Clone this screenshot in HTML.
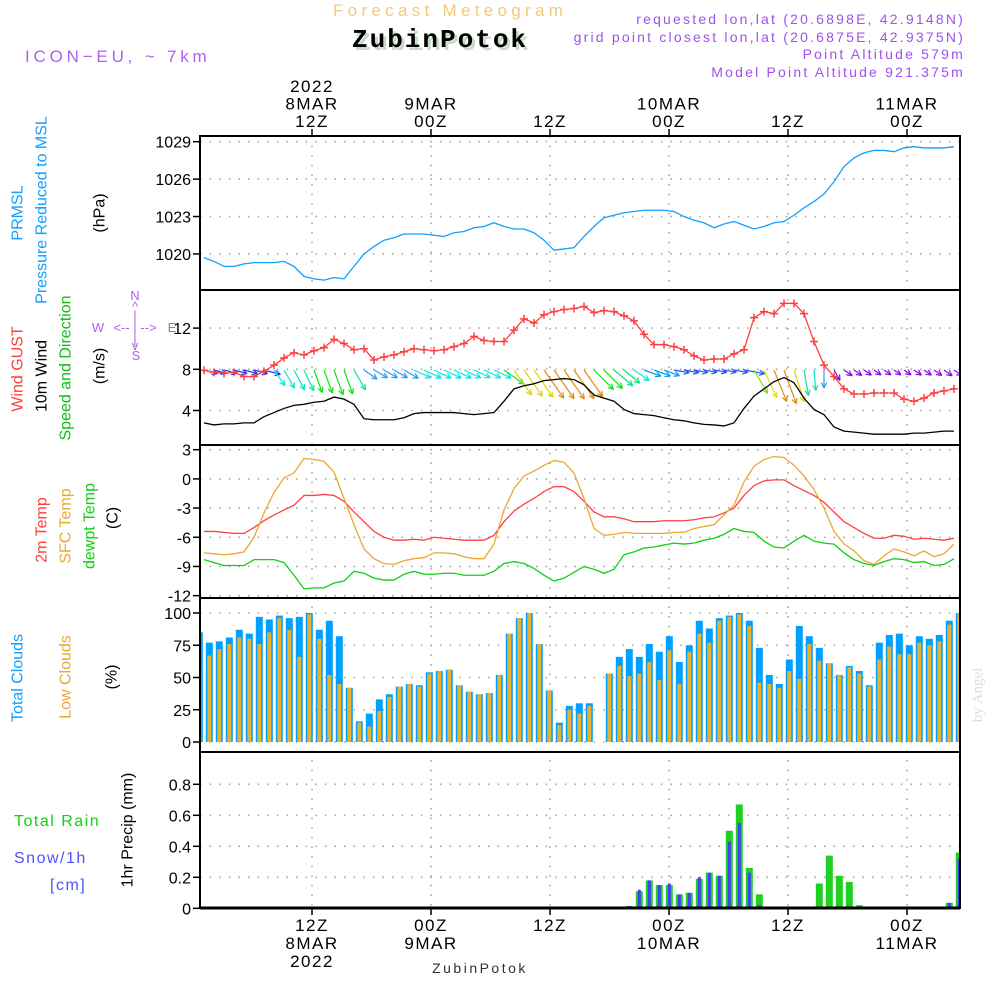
<!DOCTYPE html>
<html><head><meta charset="utf-8"><style>
body{margin:0;background:#fff;}
svg{display:block;font-family:"Liberation Sans",sans-serif;}
</style></head><body>
<svg id="chart" width="1000" height="1000" viewBox="0 0 1000 1000" xmlns="http://www.w3.org/2000/svg">
<rect width="1000" height="1000" fill="#fff"/>
<text x="333" y="16" font-size="17" fill="#f5c97a" letter-spacing="4.3">Forecast Meteogram</text>
<text x="965" y="42" font-size="14" fill="#a050f0" text-anchor="end" letter-spacing="2.2">grid point closest lon,lat (20.6875E, 42.9375N)</text>
<text x="355" y="50" font-size="26" font-weight="bold" fill="#c8dcc8" font-family="Liberation Mono,monospace" letter-spacing="2">ZubinPotok</text>
<text x="352" y="47" font-size="26" font-weight="bold" fill="#000" font-family="Liberation Mono,monospace" letter-spacing="2">ZubinPotok</text>
<text x="25" y="62" font-size="17" fill="#b060f0" letter-spacing="3.8">ICON−EU, ~ 7km</text>
<g font-size="14" fill="#a050f0" text-anchor="end" letter-spacing="2.2">
<text x="965" y="24">requested lon,lat (20.6898E, 42.9148N)</text>
<text x="965" y="59">Point Altitude 579m</text>
<text x="965" y="77">Model Point Altitude 921.375m</text>
</g>
<text transform="translate(982,695) rotate(-90)" font-size="15" fill="#ddd" text-anchor="middle" font-family="Liberation Serif,serif">by Angel</text>
<g id="g"></g>
</svg>
<script>
// ---- data ----
const pressure=[1019.7,1019.4,1019.0,1019.0,1019.2,1019.3,1019.3,1019.3,1019.4,1019.0,1018.2,1018.0,1017.9,1018.1,1018.0,1019.0,1020.0,1020.6,1021.1,1021.3,1021.6,1021.6,1021.6,1021.5,1021.4,1021.7,1021.8,1022.1,1022.2,1022.5,1022.2,1022.0,1022.0,1021.7,1021.1,1020.3,1020.4,1020.5,1021.4,
1022.2,1022.9,1023.1,1023.3,1023.4,1023.5,1023.5,1023.5,1023.4,1023.0,1022.7,1022.5,1022.1,1022.4,1022.6,1022.3,1022.0,1022.2,1022.5,1022.6,1023.1,1023.7,1024.2,1024.8,1025.8,1027.0,1027.7,1028.1,1028.3,1028.3,1028.2,1028.5,1028.6,1028.5,1028.5,1028.5,1028.6];
const wind10m=[2.8,2.6,2.7,2.7,2.8,2.8,3.4,3.8,4.2,4.5,4.6,4.8,4.9,5.3,5.1,4.6,3.2,3.1,3.1,3.1,3.3,3.7,3.8,3.8,3.8,3.8,3.7,3.6,3.7,3.8,4.9,6.1,6.4,6.6,6.9,7.0,7.1,7.0,6.5,
5.5,5.2,4.9,4.1,3.7,3.6,3.5,3.3,3.1,3.0,2.8,2.65,2.6,2.5,2.8,4.2,5.4,6.1,6.8,7.2,6.7,5.2,4.1,3.6,2.4,2.0,1.9,1.8,1.7,1.7,1.7,1.7,1.8,1.8,1.9,2.0,2.0];
const gust=[7.9,7.7,7.6,7.7,7.3,7.3,7.8,8.4,9.1,9.6,9.4,9.8,10.1,10.9,10.5,9.9,10.0,8.9,9.2,9.4,9.7,10.0,9.9,9.8,9.9,10.2,10.5,11.2,10.8,10.7,10.7,11.8,12.9,12.5,13.3,13.6,13.8,13.9,14.1,
13.5,13.7,13.6,13.2,12.7,11.4,10.4,10.4,10.2,9.9,9.3,8.9,9.0,9.0,9.5,9.9,13.0,13.6,13.4,14.4,14.4,13.4,10.7,8.4,7.3,6.1,5.6,5.6,5.7,5.7,5.7,5.1,4.9,5.2,5.7,5.9,6.1];
const windAngle=[15,15,15,15,15,15,15,55,60,62,65,70,70,70,70,60,35,30,30,30,30,25,25,25,25,25,25,25,25,25,35,55,55,55,55,55,55,55,55,
45,45,40,40,35,20,20,20,10,10,10,10,10,10,10,10,60,65,68,70,72,80,85,90,60,35,35,35,35,35,35,35,35,35,35,35,35];
const windHue=[235,235,235,235,235,235,235,180,175,170,165,120,120,120,120,160,205,205,205,205,205,180,180,180,180,180,180,180,180,180,130,55,55,55,35,35,35,35,35,
120,120,150,150,175,200,200,200,225,225,225,225,225,225,225,225,90,60,35,35,55,160,170,205,270,275,275,275,275,275,275,275,275,275,275,275,275];
const temp2m=[-5.4,-5.4,-5.5,-5.6,-5.6,-5.0,-4.3,-3.7,-3.2,-2.7,-1.7,-1.7,-1.6,-1.7,-2.3,-3.4,-4.4,-5.4,-6.0,-6.3,-6.3,-6.2,-6.3,-6.0,-6.1,-6.2,-6.3,-6.3,-6.3,-5.8,-4.4,-3.3,-2.6,-2.0,-1.3,-0.8,-0.8,-1.3,-2.3,
-3.4,-3.9,-3.9,-4.1,-4.4,-4.4,-4.4,-4.3,-4.3,-4.3,-4.2,-4.0,-3.9,-3.5,-3.0,-1.7,-0.7,-0.2,-0.1,-0.1,-0.7,-1.2,-1.7,-2.4,-3.4,-4.4,-5.0,-5.6,-6.1,-6.1,-5.8,-5.9,-6.2,-6.1,-6.2,-6.3,-6.1];
const tempSfc=[-7.6,-7.7,-7.8,-7.7,-7.5,-6.0,-3.5,-1.4,0.1,0.6,2.1,2.0,1.8,0.7,-2.0,-4.7,-7.2,-8.2,-8.7,-8.8,-8.4,-8.2,-8.1,-7.6,-7.6,-7.7,-8.0,-8.2,-8.2,-6.7,-3.2,-1.0,0.3,0.8,1.4,1.9,1.7,0.6,-2.0,
-5.1,-5.8,-5.7,-5.5,-5.6,-5.6,-5.6,-5.6,-5.5,-5.5,-5.1,-4.9,-4.7,-3.7,-2.7,-0.3,1.3,2.0,2.3,2.2,1.4,0.3,-1.1,-3.0,-5.4,-6.7,-7.4,-8.4,-8.8,-7.9,-7.2,-7.5,-7.9,-7.4,-8.0,-7.7,-6.7];
const dewpt=[-8.3,-8.6,-8.9,-8.9,-8.9,-8.3,-8.3,-8.3,-8.6,-9.9,-11.3,-11.2,-11.2,-10.7,-10.5,-9.5,-9.7,-10.2,-10.4,-10.4,-9.8,-9.5,-9.8,-9.8,-9.7,-9.7,-9.9,-9.9,-9.9,-9.5,-8.7,-8.5,-8.7,-9.2,-9.9,-10.5,-10.2,-9.6,-9.0,
-9.3,-9.7,-9.3,-7.8,-7.5,-7.1,-7.0,-6.8,-6.6,-6.7,-6.6,-6.3,-6.1,-5.7,-5.1,-5.4,-5.5,-6.4,-7.0,-7.1,-6.4,-5.8,-6.4,-6.6,-6.7,-7.6,-8.3,-8.7,-8.9,-8.5,-8.2,-8.3,-8.6,-8.5,-8.9,-8.8,-8.2];
const totalClouds=[85,77,78,81,87,84,97,95,98,96,97,100,87,94,82,42,16,22,33,37,43,45,44,54,55,56,44,39,37,38,52,84,96,100,76,40,15,28,30,30,0,53,66,72,66,76,70,82,62,75,94,88,96,98,100,94,73,52,45,64,90,82,73,61,52,59,55,44,77,83,84,75,82,80,83,94,100];
const lowClouds=[56,67,72,76,81,80,76,85,96,87,66,99,80,52,45,42,15,12,24,35,43,45,43,53,55,56,44,39,37,38,52,84,96,100,76,40,13,25,22,28,0,53,59,51,53,62,48,71,45,70,84,77,94,97,99,90,46,45,42,55,49,76,63,61,52,58,53,43,64,74,68,68,77,75,78,91,100];
const rainTotal=[0,0,0,0,0,0,0,0,0,0,0,0,0,0,0,0,0,0,0,0,0,0,0,0,0,0,0,0,0,0,0,0,0,0.01,0.01,0,0,0,0,0,0,0,0,0.015,0.11,0.18,0.15,0.15,0.09,0.1,0.19,0.23,0.21,0.5,0.67,0.26,0.09,0.01,0,0,0,0,0.16,0.34,0.21,0.17,0.02,0,0,0,0,0,0,0,0,0.035,0.36];
const snow1h=[0,0,0,0,0,0,0,0,0,0,0,0,0,0,0,0,0,0,0,0,0,0,0,0,0,0,0,0,0,0,0,0,0,0.01,0.01,0,0,0,0,0,0,0,0,0.015,0.12,0.18,0.15,0.16,0.09,0.1,0.2,0.23,0.21,0.43,0.55,0.23,0.02,0,0,0,0,0,0,0,0,0,0,0,0,0,0,0,0,0,0,0.035,0.32];
const pTicks=[1020,1023,1026,1029];
const wTicks=[4,8,12];
const tTicks=[3,0,-3,-6,-9,-12];
const cTicks=[0,25,50,75,100];
const rTicks=[0,0.2,0.4,0.6,0.8];
const timeTicksTop=[["2022","8MAR","12Z"],["9MAR","00Z"],["12Z"],["10MAR","00Z"],["12Z"],["11MAR","00Z"]];
const timeTicksBottom=[["12Z","8MAR","2022"],["00Z","9MAR"],["12Z"],["00Z","10MAR"],["12Z"],["00Z","11MAR"]];
const tickHours=[12,24,36,48,60,72];

// ---- scales ----
const X0=200,X1=960;
const xH=h=>312+(h-12)*9.917;
const xL=i=>204+10*i;
const xB=i=>199.3+10*i;
const yP=p=>141.7+(1029-p)*12.47;
const yW=w=>369.3-(w-8)*10.3;
const yT=t=>449.7+(3-t)*9.73;
const yC=c=>742-c*1.29;
const yR=r=>908.3-r*155;
const panels=[[136,290],[290,445],[445,598],[598,752],[752,908]];

const NS='http://www.w3.org/2000/svg';
const g=document.getElementById('g');
function el(tag,attrs,parent){const e=document.createElementNS(NS,tag);for(const k in attrs)e.setAttribute(k,attrs[k]);(parent||g).appendChild(e);return e;}

const defs=el('defs',{});
const cp=el('clipPath',{id:'clip'},defs);
el('rect',{x:X0,y:136,width:X1-X0,height:772},cp);

const grid=el('g',{stroke:'#aaa','stroke-width':1.6,'stroke-dasharray':'1.6 8'});


tickHours.forEach(h=>{el('line',{x1:xH(h),x2:xH(h),y1:136,y2:908},grid);});
function hgrid(ticks,f,name){
  ticks.forEach(v=>{const y=f(v);el('line',{x1:X0,x2:X1,y1:y,y2:y},grid);
    const t=el('text',{x:191,y:y+6,'font-size':16,'text-anchor':'end',fill:'#000'});t.textContent=v;
    
    
    el('line',{x1:193,x2:X0,y1:y,y2:y,stroke:'#000','stroke-width':1.5});});
}
hgrid(pTicks,yP,'pressure');hgrid(wTicks,yW,'wind');hgrid(tTicks,yT,'temp');hgrid(cTicks,yC,'cloud');hgrid(rTicks,yR,'precip');

const plot=el('g',{'clip-path':'url(#clip)'});
totalClouds.forEach((v,i)=>{
  const r=el('rect',{x:xB(i)-3.5,y:yC(v),width:7,height:yC(0)-yC(v),fill:'#00a0ff'},plot);
  
  
});
lowClouds.forEach((v,i)=>{
  const r=el('rect',{x:xB(i)-2,y:yC(v),width:4,height:yC(0)-yC(v),fill:'#e8b030'},plot);
  
  
});
rainTotal.forEach((v,i)=>{if(v<=0)return;
  const r=el('rect',{x:xB(i)-3.5,y:yR(v),width:7,height:yR(0)-yR(v),fill:'#20d020'},plot);
  
  
});
snow1h.forEach((v,i)=>{if(v<=0)return;
  const r=el('rect',{x:xB(i)-1.5,y:yR(v),width:3,height:yR(0)-yR(v),fill:'#4040ff'},plot);
  
  
});
function line(arr,fy,color,name){
  const p=el('polyline',{points:arr.map((v,i)=>xL(i)+','+fy(v)).join(' '),fill:'none',stroke:color,'stroke-width':1.3},plot);
  
  
}
line(pressure,yP,'#10a0ff','pressure-line');
windAngle.forEach((a,i)=>{
  const len=5*wind10m[i],rad=a*Math.PI/180,x=xL(i),y=370;
  const x2=x+len*Math.cos(rad),y2=y+len*Math.sin(rad);
  const c='hsl('+windHue[i]+',90%,'+(windHue[i]>200&&windHue[i]<250?55:47)+'%)';
  const ag=el('g',{stroke:c,'stroke-width':1.2,fill:'none'},plot);
  
  
  el('line',{x1:x,y1:y,x2:x2,y2:y2},ag);
  const h=6;[0.45,-0.45].forEach(d=>{el('line',{x1:x2,y1:y2,x2:x2-h*Math.cos(rad+d),y2:y2-h*Math.sin(rad+d)},ag);});
});
line(wind10m,yW,'#000','wind-speed-line');
line(gust,yW,'#ff4040','gust-line');
gust.forEach((v,i)=>{
  const m=el('path',{d:`M${xL(i)-4},${yW(v)}h8M${xL(i)},${yW(v)-4}v8`,stroke:'#ff4040','stroke-width':1.5},plot);
  
  
});
line(temp2m,yT,'#ff4040','temp-2m-line');
line(tempSfc,yT,'#eaa830','sfc-temp-line');
line(dewpt,yT,'#10d010','dewpoint-line');

panels.forEach(([a,b],k)=>{
  const r=el('rect',{x:X0,y:a,width:X1-X0,height:b-a,fill:'none',stroke:'#000','stroke-width':2});
  
  
});
el('line',{x1:X0,x2:X1,y1:908,y2:908,stroke:'#000','stroke-width':3});
tickHours.forEach((h,k)=>{
  const x=xH(h);
  el('line',{x1:x,x2:x,y1:129,y2:136,stroke:'#000','stroke-width':1.5});
  el('line',{x1:x,x2:x,y1:908,y2:915,stroke:'#000','stroke-width':1.5});
  const top=timeTicksTop[k];
  top.forEach((s,j)=>{const t=el('text',{x:x,y:127-(top.length-1-j)*17.5,'font-size':17,'text-anchor':'middle',fill:'#000','letter-spacing':1.5});t.textContent=s;
    
    });
  timeTicksBottom[k].forEach((s,j)=>{const t=el('text',{x:x,y:931+j*18,'font-size':17,'text-anchor':'middle',fill:'#000','letter-spacing':1.5});t.textContent=s;
    
    });
});
function rot(txt,x,y,color,name,size){
  const t=el('text',{transform:`translate(${x},${y}) rotate(-90)`,'font-size':size||16,'text-anchor':'middle','dominant-baseline':'central',fill:color});
  t.textContent=txt;
  
  
}
rot('PRMSL',18,213,'#10a0ff','prmsl-label');
rot('Pressure Reduced to MSL',42,210,'#10a0ff','pressure-title');
rot('(hPa)',100,213,'#000','hpa-unit');
rot('Wind GUST',18,369,'#ff4040','gust-title');
rot('10m Wind',42,376,'#000','wind-title');
rot('Speed and Direction',66,368,'#10c010','wind-subtitle');
rot('(m/s)',100,366,'#000','wind-unit');
rot('2m Temp',42,530,'#ff4040','temp-2m-title');
rot('SFC Temp',66,526,'#eaa830','sfc-temp-title');
rot('dewpt Temp',90,526,'#10d010','dewpt-title');
rot('(C)',113,518,'#000','temp-unit');
rot('Total Clouds',18,678,'#10a0ff','total-clouds-title');
rot('Low Clouds',66,677,'#eaa830','low-clouds-title');
rot('(%)',112,677,'#000','cloud-unit');
rot('1hr Precip (mm)',128,830,'#000','precip-title');
function txt(s,x,y,color,name,size,anchor,ls){
  const t=el('text',{x:x,y:y,'font-size':size||16,fill:color,'text-anchor':anchor||'start','letter-spacing':ls||1});
  t.textContent=s;
  
  
}
txt('Total  Rain',14,826,'#10d010','rain-legend',16,'start',1.5);
txt('Snow/1h',14,863,'#5050ff','snow-legend',16,'start',1.5);
txt('[cm]',50,890,'#5050ff','snow-unit',16,'start',1.5);
txt('ZubinPotok',480,973,'#333','footer-location',14,'middle',2.5);
const cg=el('g',{fill:'#b060f0','font-size':13,'text-anchor':'middle'});


[['N',135,300],['^',135,311],['|',135,320],['W',98,332],['<-- | -->',135,332],['E',172,332],['|',135,344],['v',135,350],['S',136,360]].forEach(([s,x,y])=>{const t=el('text',{x:x,y:y},cg);t.textContent=s;});
</script>
</body></html>
